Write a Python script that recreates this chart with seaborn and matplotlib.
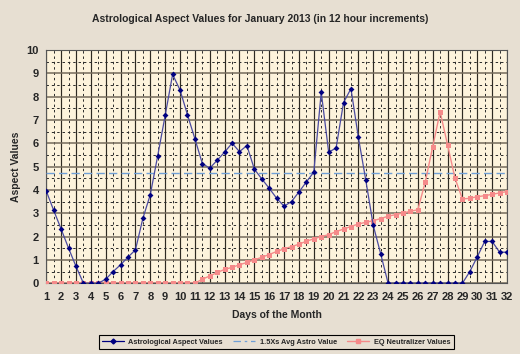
import numpy as np
import pandas as pd
import matplotlib
matplotlib.use("Agg")
import matplotlib.pyplot as plt
from matplotlib.lines import Line2D
from matplotlib.ticker import MultipleLocator
import seaborn as sns

# 12 hour steps, day 1 .. day 32
days = np.arange(1, 32.5, 0.5)

aspect_values = [
    3.95, 3.12, 2.32, 1.50, 0.72, 0.0, 0.0, 0.0, 0.17, 0.50,
    0.79, 1.12, 1.43, 2.78, 3.80, 5.47, 7.19, 8.95, 8.28, 7.22,
    6.19, 5.13, 4.93, 5.27, 5.62, 6.00, 5.64, 5.90, 4.89, 4.47,
    4.07, 3.64, 3.30, 3.50, 3.91, 4.34, 4.76, 8.19, 5.62, 5.79,
    7.74, 8.34, 6.25, 4.41, 2.48, 1.26,
    0.0, 0.0, 0.0, 0.0, 0.0, 0.0, 0.0, 0.0, 0.0, 0.0, 0.0,
    0.50, 1.13, 1.79, 1.79, 1.33, 1.33,
]

eq_values = [
    0.0, 0.0, 0.0, 0.0, 0.0, 0.0, 0.0, 0.0, 0.0, 0.0, 0.0,
    0.0, 0.0, 0.0, 0.0, 0.0, 0.0, 0.0, 0.0, 0.0, 0.0,
    0.17, 0.31, 0.46, 0.59, 0.68, 0.79, 0.89, 1.00, 1.11, 1.23,
    1.36, 1.47, 1.57, 1.67, 1.80, 1.90, 2.00, 2.08, 2.21, 2.32,
    2.43, 2.54, 2.61, 2.68, 2.77, 2.87, 2.94, 3.01, 3.08, 3.15,
    4.34, 5.85, 7.35, 5.93, 4.50, 3.61, 3.64, 3.71, 3.75, 3.81, 3.87, 3.93,
]

avg_line = 4.73
day_ticks = list(range(1, 33))

df = pd.DataFrame({"day": days, "aspect": aspect_values, "eq": eq_values})

sns.set_style("white")
plt.rcParams["font.family"] = ["Liberation Sans", "DejaVu Sans"]

BG = "#e7dfd2"
fig = plt.figure(figsize=(5.2, 3.54), dpi=100, facecolor=BG)
ax = fig.add_axes([0.089, 0.2, 0.886, 0.659])
ax.set_facecolor("#fdf3dc")

NAVY = "#000080"
PINK = "#f58a8a"
LBLUE = "#6f9fd6"

ax.axhline(avg_line, color=LBLUE, lw=1.0, ls=(0, (6, 3)), zorder=3)
sns.lineplot(data=df, x="day", y="eq", ax=ax, color=PINK, lw=1.0,
             marker="s", markersize=3.6, markeredgewidth=0, zorder=4)
sns.lineplot(data=df, x="day", y="aspect", ax=ax, color="#4a4aa0", lw=0.9,
             marker="D", markersize=3.0, markerfacecolor=NAVY,
             markeredgecolor=NAVY, markeredgewidth=0, zorder=5)

ax.set_xlim(1, 32)
ax.set_ylim(0, 10)
ax.set_xticks(day_ticks)
ax.set_yticks(range(0, 11))
ax.xaxis.set_minor_locator(MultipleLocator(0.5))
ax.yaxis.set_minor_locator(MultipleLocator(0.5))
ax.xaxis.grid(True, which="major", color="#2e2a22", lw=0.85, ls="-", zorder=0)
ax.yaxis.grid(True, which="major", color="#756b5b", lw=1.1, ls="-", zorder=0)
ax.grid(which="minor", color="#2a2a2a", lw=0.7, ls=(0, (2.5, 3)), zorder=0)
ax.set_axisbelow(True)

for s in ax.spines.values():
    s.set_color("#555555")
    s.set_linewidth(0.8)

ax.tick_params(axis="y", which="major", labelsize=8, length=3, width=0.7, pad=4,
               direction="inout")
ax.tick_params(axis="x", which="major", labelsize=8, length=0, pad=6)
ax.tick_params(which="minor", length=0)
for lab in ax.get_xticklabels() + ax.get_yticklabels():
    lab.set_fontweight("bold")

ax.set_xlabel("Days of the Month", fontsize=7.5, fontweight="bold", labelpad=6)
ax.set_ylabel("Aspect Values", fontsize=7.5, fontweight="bold")
ax.yaxis.set_label_coords(-0.055, 0.5)
fig.text(0.5, 0.946, "Astrological Aspect Values for January 2013 (in 12 hour increments)",
         ha="center", va="center", fontsize=7.5, fontweight="bold")

handles = [
    Line2D([], [], color=NAVY, lw=0.9, marker="D", markersize=2.5),
    Line2D([], [], color=LBLUE, lw=0.9, ls=(0, (6, 3, 2, 3))),
    Line2D([], [], color=PINK, lw=1.0, marker="s", markersize=3),
]
labels = ["Astrological Aspect Values", "1.5Xs Avg Astro Value", "EQ Neutralizer Values"]
leg = fig.legend(handles, labels, loc="center", bbox_to_anchor=(0.531, 0.034), ncol=3,
                 prop={"size": 5.3, "weight": "bold"},
                 frameon=True, fancybox=False, edgecolor="black",
                 facecolor=BG, framealpha=1, handlelength=3.0, columnspacing=1.4,
                 borderpad=0.45, handletextpad=0.6)
leg.get_frame().set_linewidth(0.8)

fig.savefig("out.png", dpi=100, facecolor=BG)
